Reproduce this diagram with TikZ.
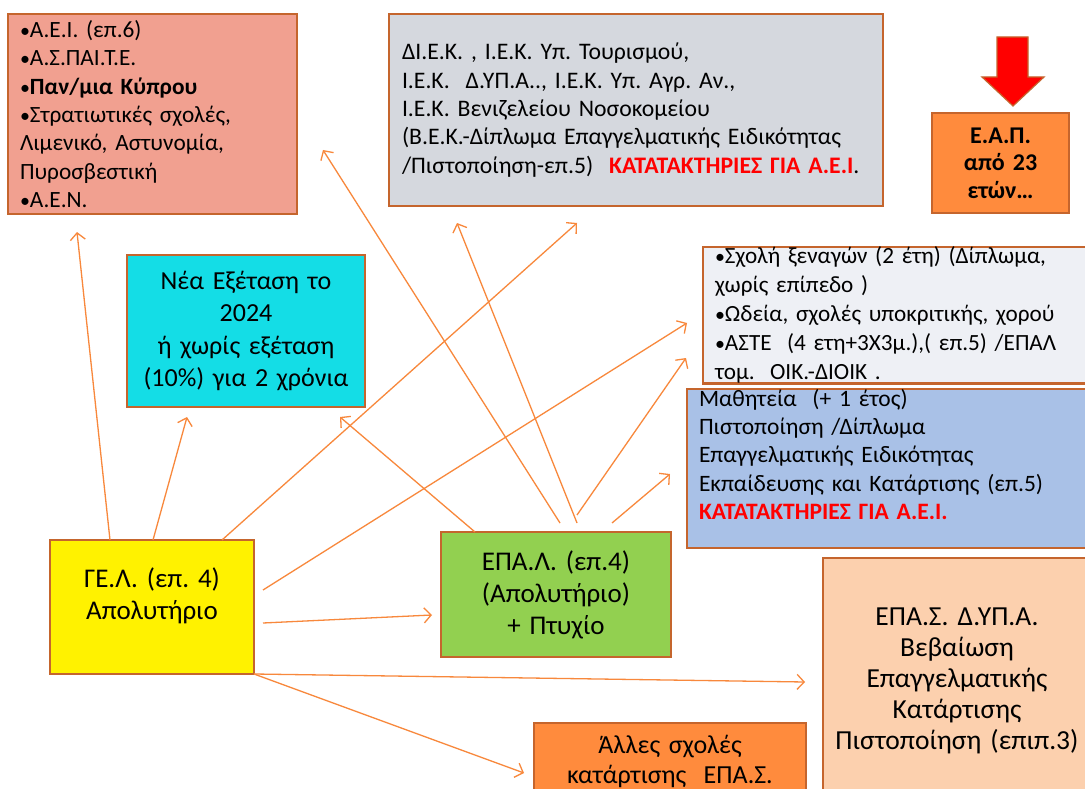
\documentclass[tikz,border=0pt]{standalone}
\usepackage{fontspec}
\setmainfont{Carlito}
\usetikzlibrary{arrows.meta,calc}
\frenchspacing
\newcommand{\bul}{{\fontsize{20}{0}\selectfont•}}
\definecolor{bord}{HTML}{C5652D}
\definecolor{arr}{HTML}{F8883C}
\definecolor{salm}{HTML}{F1A090}
\definecolor{greybox}{HTML}{D5D8DE}
\definecolor{lightbox}{HTML}{EEF0F5}
\definecolor{bluebox}{HTML}{A9C1E7}
\definecolor{cyanbox}{HTML}{14DDE6}
\definecolor{greenbox}{HTML}{92D050}
\definecolor{peach}{HTML}{FCD0AE}
\definecolor{orangebox}{HTML}{FF8B3D}
\tikzset{
  box/.style={draw=bord, line width=2.6pt, anchor=north west, inner ysep=0pt, outer sep=0pt},
  lbox/.style={box, align=left, inner xsep=12pt},
  cbox/.style={box, align=center, inner xsep=4pt},
  conn/.style={draw=arr, line width=1.3pt, -{Straight Barb[length=7pt,width=15pt,line width=1.3pt]}},
}
\begin{document}
\begin{tikzpicture}[x=1pt,y=-1pt]
\useasboundingbox (0,0) rectangle (1085,789);
\fill[white] (0,0) rectangle (1085,789);

% top-left box
\node[lbox, fill=salm, minimum width=289pt, minimum height=200pt, text width=265pt,
      font=\fontsize{23.3}{28.3}\selectfont] (aei) at (8,14)
 {\bul Α.Ε.Ι. (επ.6)\\
  \bul Α.Σ.ΠΑΙ.Τ.Ε.\\
  \bul\textbf{Παν/μια Κύπρου}\\
  \bul Στρατιωτικές σχολές,\\
  Λιμενικό, Αστυνομία,\\
  Πυροσβεστική\\
  \bul Α.Ε.Ν.};

% grey box
\node[lbox, fill=greybox, minimum width=494pt, minimum height=192pt, text width=468pt, inner xsep=13pt,
      font=\fontsize{23.7}{28.3}\selectfont] (iek) at (389,14)
 {ΔΙ.Ε.Κ. , Ι.Ε.Κ. Υπ. Τουρισμού,\\
  Ι.Ε.Κ.\ \ Δ.ΥΠ.Α.., Ι.Ε.Κ. Υπ. Αγρ. Αν.,\\
  Ι.Ε.Κ. Βενιζελείου Νοσοκομείου\\
  (Β.Ε.Κ.-Δίπλωμα Επαγγελματικής Ειδικότητας\\
  /Πιστοποίηση-επ.5)\ \ \textcolor{red}{\textbf{ΚΑΤΑΤΑΚΤΗΡΙΕΣ ΓΙΑ Α.Ε.Ι}}.};

% red down arrow
\draw[fill=red, draw=bord, line width=1.2pt]
  (997,37) -- (1028,37) -- (1028,77) -- (1044,77) -- (1013,106) -- (982,77) -- (997,77) -- cycle;

% EAP box
\node[cbox, fill=orangebox, minimum width=137pt, minimum height=100pt, text width=129pt,
      font=\fontsize{24}{27.5}\selectfont\bfseries] (eap) at (932,113)
 {Ε.Α.Π.\\ από 23\\ ετών…};

% cyan box
\node[cbox, fill=cyanbox, minimum width=238pt, minimum height=152pt, text width=230pt,
      font=\fontsize{26}{32.3}\selectfont] (nea) at (127,255)
 {Νέα Εξέταση το\\ 2024\\ ή χωρίς εξέταση\\ (10\%) για 2 χρόνια};

% light right box
\node[lbox, fill=lightbox, minimum width=400pt, minimum height=135pt, text width=376pt,
      font=\fontsize{23.2}{29}\selectfont] (xen) at (703,247)
 {\bul Σχολή ξεναγών (2 έτη) (Δίπλωμα,\\
  χωρίς επίπεδο )\\
  \bul Ωδεία, σχολές υποκριτικής, χορού\\
  \bul ΑΣΤΕ\ \ (4 ετη+3Χ3μ.),( επ.5) /ΕΠΑΛ\\
  τομ.\ \ ΟΙΚ.-ΔΙΟΙΚ .};

% blue box
\node[lbox, fill=bluebox, minimum width=420pt, minimum height=159pt, text width=396pt,
      font=\fontsize{23.5}{28.3}\selectfont] (math) at (687,389)
 {Μαθητεία\ \ (+ 1 έτος)\\
  Πιστοποίηση /Δίπλωμα\\
  Επαγγελματικής Ειδικότητας\\
  Εκπαίδευσης και Κατάρτισης (επ.5)\\
  \textcolor{red}{\textbf{ΚΑΤΑΤΑΚΤΗΡΙΕΣ ΓΙΑ Α.Ε.Ι.}}\\
  \mbox{}};

% GEL box
\node[cbox, fill=yellow, minimum width=204pt, minimum height=134pt, text width=196pt,
      font=\fontsize{27}{32}\selectfont] (gel) at (50,540)
 {ΓΕ.Λ. (επ. 4)\\ Απολυτήριο\\[-6pt] \mbox{}};

% EPAL box
\node[cbox, fill=greenbox, minimum width=230pt, minimum height=125pt, text width=222pt,
      font=\fontsize{27}{32}\selectfont] (epal) at (441,532)
 {ΕΠΑ.Λ. (επ.4)\\ (Απολυτήριο)\\ + Πτυχίο};

% EPAS DYPA box
\node[cbox, fill=peach, minimum width=268pt, minimum height=246pt, text width=260pt,
      font=\fontsize{27.5}{31}\selectfont] (epas) at (823,558)
 {ΕΠΑ.Σ. Δ.ΥΠ.Α.\\ Βεβαίωση\\ Επαγγελματικής\\ Κατάρτισης\\ Πιστοποίηση (επιπ.3)};

% other schools box
\node[cbox, fill=orangebox, minimum width=272pt, minimum height=76pt, text width=264pt,
      font=\fontsize{26}{30}\selectfont] (alles) at (534,723)
 {Άλλες σχολές\\ κατάρτισης\ \ ΕΠΑ.Σ.};

% arrow tips
\coordinate (t1) at (77,232);
\coordinate (t2) at (187,417);
\coordinate (t3) at (577,223);
\coordinate (t4) at (687,323);
\coordinate (t5) at (432,615);
\coordinate (t6) at (805,682);
\coordinate (t7) at (524,773);
\coordinate (u1) at (340,417);
\coordinate (u2) at (323,150);
\coordinate (u3) at (457,223);
\coordinate (u4) at (686,358);
\coordinate (u5) at (670,474);

% arrows from GEL
\draw[conn] ($(gel.north west)+(60,0)$) -- (t1);
\draw[conn] ($(gel.north west)+(103,0)$) -- (t2);
\draw[conn] ($(gel.north west)+(172,0)$) -- (t3);
\draw[conn] ($(gel.north east)+(9,50)$) -- (t4);
\draw[conn] ($(gel.north east)+(9,83)$) -- (t5);
\draw[conn] (gel.south east) -- (t6);
\draw[conn] (gel.south east) -- (t7);

% arrows from EPAL
\draw[conn] ($(epal.north west)+(34,0)$) -- (u1);
\draw[conn] ($(epal.north west)+(119,-9)$) -- (u2);
\draw[conn] ($(epal.north west)+(136,-9)$) -- (u3);
\draw[conn] ($(epal.north west)+(136,-17)$) -- (u4);
\draw[conn] ($(epal.north west)+(171,-9)$) -- (u5);
\end{tikzpicture}
\end{document}
